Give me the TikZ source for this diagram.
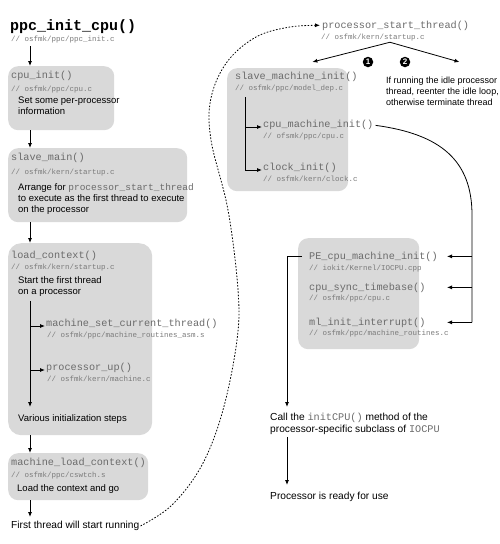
\documentclass[tikz,border=0pt]{standalone}
\usepackage{fontspec}
\setmainfont{Liberation Sans}
\setmonofont{Liberation Mono}
\usetikzlibrary{positioning,arrows.meta}
\definecolor{boxfill}{gray}{0.85}
\definecolor{fncol}{gray}{0.42}
\definecolor{srccol}{gray}{0.48}
\newcommand{\fncode}[1]{{\ttfamily\color{fncol}#1}}

\begin{document}
\begin{tikzpicture}[x=1pt, y=-1pt,
  stage/.style={rectangle, fill=boxfill, rounded corners=10pt, inner sep=0pt, anchor=north west},
  fn/.style={font=\ttfamily\fontsize{10.2}{11}\selectfont, text=fncol, inner sep=0pt, anchor=base west},
  src/.style={font=\ttfamily\fontsize{7.5}{9}\selectfont, text=srccol, inner sep=0pt, anchor=base west},
  desc/.style={font=\fontsize{9.5}{11}\selectfont, align=left, inner sep=0pt, anchor=north west},
  label/.style={desc, font=\fontsize{10.2}{12}\selectfont},
  arr/.style={-{Latex[length=5pt,width=4pt]}, line width=0.8pt},
  dotarr/.style={-{Latex[length=5pt,width=4pt]}, line width=0.8pt, dash pattern=on 1.6pt off 1.6pt},
  num/.style={circle, fill=black, text=white, font=\bfseries\fontsize{8}{8}\selectfont, inner sep=0pt, minimum size=10.5pt}]
\useasboundingbox (0,0) rectangle (500,544);

% columns of the connectors
\coordinate (lcol) at (30,0);
\coordinate (scol) at (245,0);
\coordinate (rcol) at (287,0);
\coordinate (rrail) at (472,0);
\coordinate (rtip) at (447,0);

% gray stages
\node[stage, minimum width=106pt, minimum height=64pt] (cpubox) at (8,66) {};
\node[stage, minimum width=179pt, minimum height=74pt] (slavebox) at (8,148) {};
\node[stage, minimum width=144pt, minimum height=192pt, rounded corners=13pt] (loadbox) at (8,243) {};
\node[stage, minimum width=140pt, minimum height=47pt] (mlcbox) at (8,453) {};
\node[stage, minimum width=121pt, minimum height=123pt] (smibox) at (227,68) {};
\node[stage, minimum width=121pt, minimum height=111pt] (pebox) at (298,238) {};

% left column
\node[fn, font=\ttfamily\bfseries\fontsize{15}{16}\selectfont, text=black] (title) at (10,30) {ppc\_init\_cpu()};
\node[src] (titlesrc) at (11,41.5) {// osfmk/ppc/ppc\_init.c};

\node[fn] (cpuinit) at (11,78) {cpu\_init()};
\node[src] (cpusrc) at (11,91) {// osfmk/ppc/cpu.c};
\node[desc] (cpudesc) at (18,97) {Set some per-processor\\information};

\node[fn] (slavemain) at (11,160) {slave\_main()};
\node[src] (slavesrc) at (11,174) {// osfmk/kern/startup.c};
\node[desc] (slavedesc) at (18,183) {Arrange for \fncode{processor\_start\_thread}\\to execute as the first thread to execute\\on the processor};

\node[fn] (loadctx) at (11,258) {load\_context()};
\node[src] (loadsrc) at (11,269.5) {// osfmk/kern/startup.c};
\node[desc] (loaddesc) at (18,276.5) {Start the first thread\\on a processor};
\node[fn] (msct) at (46,326) {machine\_set\_current\_thread()};
\node[src] (msctsrc) at (47,337) {// osfmk/ppc/machine\_routines\_asm.s};
\node[fn] (procup) at (46,370) {processor\_up()};
\node[src] (procupsrc) at (47,381.5) {// osfmk/kern/machine.c};
\node[desc] (lvar) at (18,414) {Various initialization steps};

\node[fn] (mlc) at (11,465) {machine\_load\_context()};
\node[src] (mlcsrc) at (11,477.5) {// osfmk/ppc/cswtch.s};
\node[desc] (mlcdesc) at (17,484) {Load the context and go};

\node[label] (frun) at (11,521) {First thread will start running};

\draw[arr] ([yshift=-3pt]titlesrc.south -| lcol) -- (cpubox.north -| lcol);
\draw[arr] (cpubox.south -| lcol) -- (slavebox.north -| lcol);
\draw[arr] (slavebox.south -| lcol) -- (loadbox.north -| lcol);
\draw[arr] ([yshift=-4pt]loaddesc.south -| lcol) -- ([yshift=7pt]lvar.north -| lcol);
\draw[arr] (msct.base west -| lcol) -- ([xshift=-1pt]msct.base west);
\draw[arr] (procup.base west -| lcol) -- ([xshift=-1pt]procup.base west);
\draw[arr] (loadbox.south -| lcol) -- (mlcbox.north -| lcol);
\draw[arr] (mlcbox.south -| lcol) -- ([yshift=4pt]frun.north -| lcol);

% right column
\node[fn] (pstfn) at (322,28) {processor\_start\_thread()};
\node[src] (pstsrc) at (321,39.5) {// osfmk/kern/startup.c};
\coordinate (fork) at ([xshift=17pt,yshift=-1pt]pstsrc.south);
\node[num] (one) at (368,62) {1};
\node[num] (two) at (405,62) {2};
\node[desc, font=\fontsize{9}{11}\selectfont] (idle) at (386,77) {If running the idle processor\\thread, reenter the idle loop,\\otherwise terminate thread};
\draw[arr] (fork) -- ([xshift=-36pt,yshift=6pt]smibox.north east);
\draw[arr] (fork) -- ([xshift=17pt,yshift=15pt]idle.north);

\node[fn] (smi) at (235,79) {slave\_machine\_init()};
\node[src] (smisrc) at (235,90.5) {// osfmk/ppc/model\_dep.c};
\node[fn] (cpumi) at (263,127) {cpu\_machine\_init()};
\node[src] (cpumisrc) at (263,138.5) {// ofsmk/ppc/cpu.c};
\node[fn] (clockinit) at (263,170) {clock\_init()};
\node[src] (clocksrc) at (263,181.5) {// osfmk/kern/clock.c};
\draw[arr] ([yshift=-5pt]smisrc.south -| scol) |- ([xshift=-1pt]clockinit.base west);
\draw[arr] (cpumi.base west -| scol) -- ([xshift=-1pt]cpumi.base west);

\node[fn] (pefn) at (309,259) {PE\_cpu\_machine\_init()};
\node[src] (pesrc) at (309,270.5) {// iokit/Kernel/IOCPU.cpp};
\node[fn] (synctb) at (309,290) {cpu\_sync\_timebase()};
\node[src] (synctbsrc) at (309,300.5) {// osfmk/ppc/cpu.c};
\node[fn] (mlint) at (309,325) {ml\_init\_interrupt()};
\node[src] (mlintsrc) at (309,335.5) {// osfmk/ppc/machine\_routines.c};

\draw[line width=0.8pt] ([xshift=2pt,yshift=-1pt]cpumi.east) .. controls (440,134) and (472,160) .. (472,215) -- (mlint.east -| rrail);
\draw[arr] (pefn.east -| rrail) -- (pefn.east -| rtip);
\draw[arr] (synctb.east -| rrail) -- (synctb.east -| rtip);
\draw[arr] (mlint.east -| rrail) -- (mlint.east -| rtip);

\node[label] (call) at (270,413) {Call the \fncode{initCPU()} method of the\\processor-specific subclass of \fncode{IOCPU}};
\node[label] (ready) at (270,492) {Processor is ready for use};
\draw[arr] ([xshift=-7pt]pefn.west) -| ([yshift=6pt]call.north -| rcol);
\draw[arr] ([yshift=-2pt]call.south -| rcol) -- ([yshift=7pt]ready.north -| rcol);

% back to the start of the thread
\draw[dotarr, shorten >=2pt] plot[smooth, tension=0.6] coordinates {([xshift=1pt]frun.east) (172,505) (202,465) (223,410) (237,340) (238,290) (228,210) (211,140) (211,98) (227,62) (256,37) (290,27) (pstfn.west)};
\end{tikzpicture}
\end{document}
